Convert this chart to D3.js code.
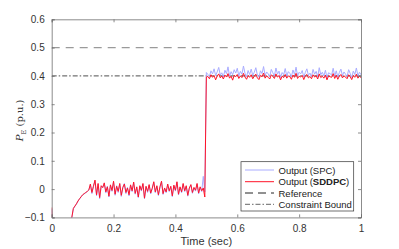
<!DOCTYPE html>
<html><head><meta charset="utf-8">
<script src="https://cdn.jsdelivr.net/npm/d3@7"></script>
<style>body{margin:0;background:#fff}svg{display:block}</style>
</head><body>
<svg id="c" width="399" height="249"></svg>
<script>
const dt = 0.005;
const xTicks = [0, 0.2, 0.4, 0.6, 0.8, 1];
const yTicks = [-0.1, 0, 0.1, 0.2, 0.3, 0.4, 0.5, 0.6];
const referenceLevel = 0.5;
const constraintLevel = 0.4;
const seriesNames = ["Output (SPC)", "Output (SDDPC)", "Reference", "Constraint Bound"];

const sddpc = [
-0.065,-0.30,-0.36,-0.38,-0.37,-0.34,-0.30,-0.26,-0.22,-0.19,-0.16,-0.135,-0.115,
-0.100,-0.068,-0.060,-0.052,-0.042,-0.034,-0.027,-0.020,-0.016,-0.012,-0.008,-0.003,
0.018,-0.012,0.010,0.032,-0.020,0.020,-0.030,0.012,0.005,0.022,
-0.010,0.008,-0.025,0.015,-0.005,0.028,-0.018,0.010,-0.008,0.020,
-0.022,0.006,0.018,-0.012,0.004,-0.020,0.015,-0.006,0.025,-0.015,
0.008,-0.028,0.012,-0.004,0.020,-0.032,0.010,-0.008,0.016,-0.014,
0.003,0.026,-0.010,0.012,-0.020,0.008,0.028,-0.016,0.004,-0.010,
0.018,-0.006,0.010,-0.024,0.014,-0.004,0.026,-0.018,0.008,-0.010,
0.020,-0.006,0.012,-0.022,0.004,0.016,-0.012,0.006,-0.004,0.020,
-0.014,0.008,-0.006,0.004,-0.028,
0.396,
0.398,0.390,0.404,0.395,0.401,0.386,0.399,0.407,0.393,0.400,
0.389,0.403,0.396,0.408,0.392,0.399,0.385,0.402,0.397,0.405,
0.391,0.400,0.394,0.409,0.396,0.388,0.401,0.395,0.404,0.390,
0.399,0.406,0.393,0.387,0.402,0.397,0.410,0.392,0.400,0.395,
0.389,0.404,0.398,0.391,0.407,0.396,0.401,0.386,0.399,0.394,
0.405,0.392,0.400,0.397,0.388,0.403,0.395,0.409,0.391,0.399,
0.396,0.402,0.387,0.400,0.405,0.393,0.398,0.390,0.404,0.396,
0.401,0.389,0.407,0.394,0.399,0.392,0.403,0.386,0.400,0.397,
0.395,0.408,0.391,0.402,0.388,0.399,0.405,0.393,0.400,0.396,
0.390,0.404,0.397,0.387,0.401,0.395,0.406,0.392,0.399,0.394
];

const spc = [
-0.07,-0.31,-0.37,-0.39,-0.37,-0.34,-0.30,-0.26,-0.22,-0.19,-0.16,-0.135,-0.117,
-0.102,-0.070,-0.061,-0.053,-0.043,-0.035,-0.028,-0.021,-0.017,-0.013,-0.009,-0.004,
0.015,-0.016,0.012,0.028,-0.024,0.018,-0.034,0.010,0.008,0.020,
-0.014,0.010,-0.028,0.012,-0.008,0.025,-0.022,0.012,-0.012,0.018,
-0.026,0.004,0.020,-0.016,0.006,-0.024,0.013,-0.009,0.022,-0.018,
0.006,-0.030,0.010,-0.007,0.018,-0.034,0.008,-0.012,0.014,-0.017,
0.001,0.024,-0.013,0.010,-0.023,0.006,0.026,-0.019,0.002,-0.013,
0.016,-0.009,0.008,-0.027,0.012,-0.007,0.024,-0.021,0.006,-0.013,
0.018,-0.009,0.010,-0.025,0.002,0.014,-0.015,0.004,-0.007,0.018,
-0.017,0.006,-0.009,0.045,-0.010,
0.412,
0.405,0.398,0.418,0.407,0.425,0.401,0.414,0.430,0.403,0.411,
0.396,0.420,0.408,0.432,0.399,0.415,0.404,0.422,0.410,0.427,
0.400,0.416,0.406,0.435,0.409,0.397,0.419,0.405,0.424,0.402,
0.413,0.429,0.403,0.395,0.418,0.408,0.433,0.401,0.414,0.407,
0.398,0.423,0.411,0.400,0.428,0.406,0.417,0.394,0.412,0.404,
0.426,0.399,0.415,0.409,0.397,0.421,0.405,0.431,0.400,0.413,
0.407,0.419,0.396,0.412,0.425,0.402,0.410,0.398,0.423,0.406,
0.416,0.397,0.429,0.404,0.413,0.400,0.420,0.393,0.411,0.408,
0.403,0.427,0.399,0.418,0.396,0.412,0.424,0.401,0.414,0.406,
0.398,0.422,0.409,0.394,0.417,0.405,0.428,0.400,0.413,0.404
];

const svg = d3.select("#c");
const L = 51.7, R = 361, T = 19.3, B = 217.4;
const x = d3.scaleLinear().domain([0, 1]).range([L, R]);
const y = d3.scaleLinear().domain([-0.1, 0.6]).range([B, T]);
const axisColor = "#6e6e6e";
const font = "'Liberation Sans', Arial, sans-serif";

svg.append("defs").append("clipPath").attr("id", "clip")
  .append("rect").attr("x", L).attr("y", T).attr("width", R - L).attr("height", B - T);

const plot = svg.append("g").attr("clip-path", "url(#clip)");

// reference and constraint lines
plot.append("line").attr("x1", x(0)).attr("x2", x(1))
  .attr("y1", y(referenceLevel)).attr("y2", y(referenceLevel))
  .attr("stroke", "#9a9a9a").attr("stroke-width", 1.4).attr("stroke-dasharray", "8,6");
plot.append("line").attr("x1", x(0)).attr("x2", x(1))
  .attr("y1", y(constraintLevel)).attr("y2", y(constraintLevel))
  .attr("stroke", "#222").attr("stroke-width", 0.8).attr("stroke-dasharray", "5,2,1.5,2");

const line = d3.line().x((d, i) => x(i * dt)).y(d => y(d));
plot.append("path").datum(spc).attr("d", line).attr("fill", "none")
  .attr("stroke", "#a9acff").attr("stroke-width", 1);
plot.append("path").datum(sddpc).attr("d", line).attr("fill", "none")
  .attr("stroke", "#ff1428").attr("stroke-width", 1);

// axes
const gx = svg.append("g").attr("transform", `translate(0,${B})`)
  .call(d3.axisBottom(x).tickValues(xTicks).tickSize(-3).tickPadding(8).tickFormat(d3.format("~g")));
const gxt = svg.append("g").attr("transform", `translate(0,${T})`)
  .call(d3.axisTop(x).tickValues(xTicks).tickSize(-3).tickFormat(""));
const gy = svg.append("g").attr("transform", `translate(${L},0)`)
  .call(d3.axisLeft(y).tickValues(yTicks).tickSize(-3).tickPadding(7).tickFormat(d3.format("~g")));
const gyr = svg.append("g").attr("transform", `translate(${R},0)`)
  .call(d3.axisRight(y).tickValues(yTicks).tickSize(-3).tickFormat(""));
[gx, gxt, gy, gyr].forEach(g => {
  g.select(".domain").attr("stroke", axisColor).attr("stroke-width", 0.8);
  g.selectAll(".tick line").attr("stroke", axisColor).attr("stroke-width", 0.8);
  g.selectAll("text").attr("fill", "#333").style("font-family", font).style("font-size", "10px");
});

// labels
svg.append("text").attr("x", (L + R) / 2).attr("y", 245).attr("text-anchor", "middle")
  .attr("fill", "#333").style("font-family", font).style("font-size", "11px").text("Time (sec)");
const yl = svg.append("text").attr("transform", `translate(23,${(T + B) / 2 + 2}) rotate(-90)`)
  .attr("text-anchor", "middle").attr("fill", "#333")
  .style("font-family", "'DejaVu Serif', 'Liberation Serif', serif").style("font-size", "10px");
yl.append("tspan").style("font-style", "italic").text("P");
yl.append("tspan").attr("dy", 2.5).style("font-size", "6.5px").text("E");
yl.append("tspan").attr("dy", -2.5).text(" (p.u.)");

// legend
const lg = svg.append("g");
const lx = 241, ly = 161.7, lw = 112.7, lh = 49.3;
lg.append("rect").attr("x", lx).attr("y", ly).attr("width", lw).attr("height", lh)
  .attr("fill", "#fff").attr("stroke", "#333").attr("stroke-width", 0.7);
const styles = [
  {c: "#a9acff", w: 1, d: null},
  {c: "#ff1428", w: 1, d: null},
  {c: "#222", w: 1, d: "8,5"},
  {c: "#555", w: 0.9, d: "5,2,1.5,2"}
];
const rowY = [170, 181.7, 193, 204.3];
seriesNames.forEach((n, i) => {
  lg.append("line").attr("x1", 245).attr("x2", 274).attr("y1", rowY[i]).attr("y2", rowY[i])
    .attr("stroke", styles[i].c).attr("stroke-width", styles[i].w)
    .attr("stroke-dasharray", styles[i].d);
  const t = lg.append("text").attr("x", 278.5).attr("y", rowY[i] + 3.5).attr("fill", "#222")
    .style("font-family", font).style("font-size", "9.5px");
  if (n.includes("SDDPC")) {
    t.append("tspan").text("Output (");
    t.append("tspan").style("font-weight", "bold").text("SDDPC");
    t.append("tspan").text(")");
  } else t.text(n);
});
</script>
</body></html>
